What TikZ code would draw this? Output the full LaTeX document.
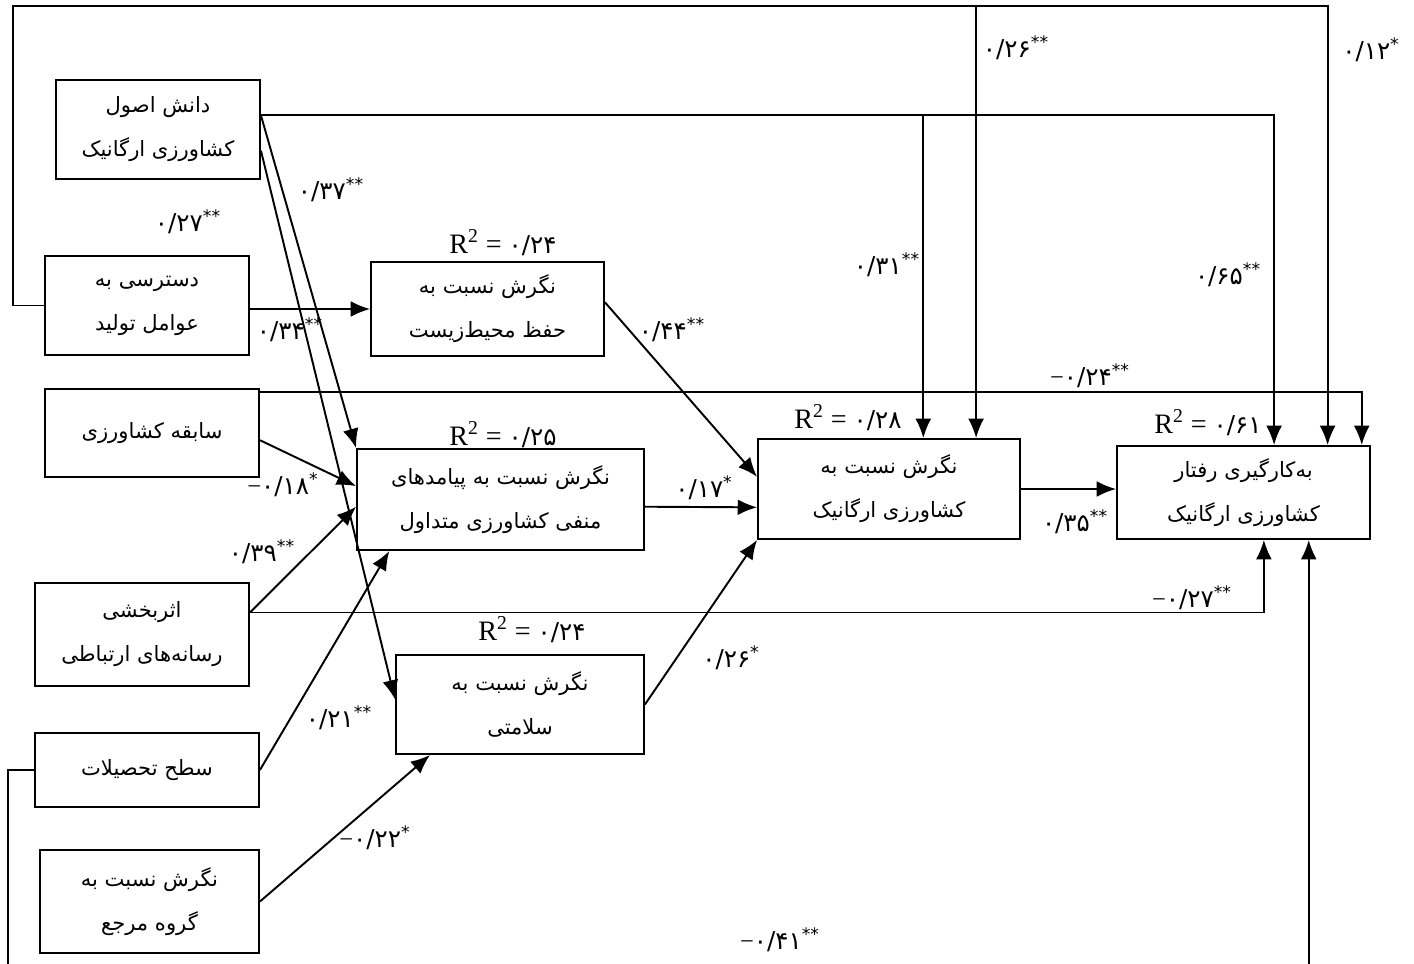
\documentclass[tikz,border=0pt]{standalone}
\usepackage{fontspec}
\setmainfont{Liberation Serif}
\newfontfamily\arabicfont[Script=Arabic]{DejaVu Sans}
\TeXXeTstate=1
\usetikzlibrary{calc,arrows.meta}
\begin{document}
        \begin{tikzpicture}[x=0.02cm, y=-0.02cm,
            box/.style={draw, line width=1.1pt, inner sep=0pt, align=center, font=\arabicfont\fontsize{12}{25}\selectfont},
            arr/.style={line width=1.1pt, -{Latex[length=11pt,width=9pt]}},
            coef/.style={inner sep=0pt, font=\arabicfont\fontsize{14}{16}\selectfont},
            rsq/.style={inner sep=0pt, font=\fontsize{16}{18}\selectfont}]
            \useasboundingbox (0,0) rectangle (1414,964);

            \node (know) [box, minimum width=4.08cm, minimum height=1.98cm] at (158,129.5) {\beginR دانش اصول\endR\\\beginR کشاورزی ارگانیک\endR};
            \node (acc) [box, minimum width=4.08cm, minimum height=1.98cm] at (147,305.5) {\beginR دسترسی به\endR\\\beginR عوامل تولید\endR};
            \node (exp) [box, minimum width=4.28cm, minimum height=1.76cm] at (152,433) {\beginR سابقه کشاورزی\endR};
            \node (media) [box, minimum width=4.28cm, minimum height=2.06cm] at (142,634.5) {\beginR اثربخشی\endR\\\beginR رسانه‌های ارتباطی\endR};
            \node (edu) [box, minimum width=4.48cm, minimum height=1.48cm] at (147,770) {\beginR سطح تحصیلات\endR};
            \node (refgrp) [box, minimum width=4.38cm, minimum height=2.06cm] at (149.5,901.5) {\beginR نگرش نسبت به\endR\\\beginR گروه مرجع\endR};
            \node (env) [box, minimum width=4.66cm, minimum height=1.88cm] at (487.5,309) {\beginR نگرش نسبت به\endR\\\beginR حفظ محیط‌زیست\endR};
            \node (conseq) [box, minimum width=5.74cm, minimum height=2.02cm] at (500.5,499.5) {\beginR نگرش نسبت به پیامدهای\endR\\\beginR منفی کشاورزی متداول\endR};
            \node (health) [box, minimum width=4.96cm, minimum height=1.98cm] at (520,704.5) {\beginR نگرش نسبت به\endR\\\beginR سلامتی\endR};
            \node (att) [box, minimum width=5.24cm, minimum height=2.0cm] at (889,489) {\beginR نگرش نسبت به\endR\\\beginR کشاورزی ارگانیک\endR};
            \node (behav) [box, minimum width=5.06cm, minimum height=1.86cm] at (1243.5,492.5) {\beginR به‌کارگیری رفتار\endR\\\beginR کشاورزی ارگانیک\endR};

            \node (r1) [rsq] at (503,243) {R\textsuperscript{2} = {\arabicfont\fontsize{14}{16}\selectfont ۰/۲۴}};
            \node (r2) [rsq] at (503,435) {R\textsuperscript{2} = {\arabicfont\fontsize{14}{16}\selectfont ۰/۲۵}};
            \node (r3) [rsq] at (532,630) {R\textsuperscript{2} = {\arabicfont\fontsize{14}{16}\selectfont ۰/۲۴}};
            \node (r4) [rsq] at (848,418) {R\textsuperscript{2} = {\arabicfont\fontsize{14}{16}\selectfont ۰/۲۸}};
            \node (r5) [rsq] at (1208,423) {R\textsuperscript{2} = {\arabicfont\fontsize{14}{16}\selectfont ۰/۶۱}};

            \coordinate (kstart) at ($(know.north east)!.36!(know.south east)$);
            \coordinate (kmid) at ($(know.north east)!.71!(know.south east)$);
            \coordinate (estart) at ($(exp.north east)!.04!(exp.south east)$);
            \coordinate (mstart) at ($(media.north east)!.29!(media.south east)$);
            \coordinate (topleft) at (13,6);
            \coordinate (botleft) at (8,990);
            \coordinate (attin1) at ($(att.north west)!.63!(att.north east)$);
            \coordinate (attin2) at ($(att.north west)!.83!(att.north east)$);
            \coordinate (behin1) at ($(behav.north west)!.62!(behav.north east)$);
            \coordinate (behin2) at ($(behav.north west)!.83!(behav.north east)$);
            \coordinate (behin3) at ($(behav.north west)!.964!(behav.north east)$);
            \coordinate (behout1) at ($(behav.south west)!.58!(behav.south east)$);
            \coordinate (behout2) at ($(behav.south west)!.756!(behav.south east)$);

            \draw [arr] (acc.west) -| (topleft) -| (behin2);
            \draw [arr] (attin2 |- topleft) -- (attin2);
            \draw [arr] (kstart) -| (behin1);
            \draw [arr] (attin1 |- kstart) -- (attin1);
            \draw [arr] (estart) -| (behin3);
            \draw [arr] (mstart) -| (behout1);
            \draw [arr] (edu.west) -| (botleft) -| (behout2);

            \draw [arr] (kstart) -- (conseq.north west);
            \draw [arr] (kmid) -- ($(health.north west)!.45!(health.south west)$);
            \draw [arr] (env.west -| acc.east) -- (env.west);
            \draw [arr] ($(env.north east)!.43!(env.south east)$) -- ($(att.north west)!.38!(att.south west)$);
            \draw [arr] ($(exp.north east)!.58!(exp.south east)$) -- ($(conseq.north west)!.37!(conseq.south west)$);
            \draw [arr] (mstart) -- ($(conseq.north west)!.57!(conseq.south west)$);
            \draw [arr] (edu.east) -- ($(conseq.south west)!.115!(conseq.south east)$);
            \draw [arr] (refgrp.east) -- ($(health.south west)!.14!(health.south east)$);
            \draw [arr] ($(conseq.north east)!.57!(conseq.south east)$) -- ($(att.north west)!.68!(att.south west)$);
            \draw [arr] (health.east) -- (att.south west);
            \draw [arr] (att.east) -- (att.east -| behav.west);

            \node (c1) [coef] at (1016,48) {۰/۲۶\textsuperscript{**}};
            \node (c2) [coef] at (1371,50) {۰/۱۲\textsuperscript{*}};
            \node (c3) [coef] at (331,190) {۰/۳۷\textsuperscript{**}};
            \node (c4) [coef] at (188,222) {۰/۲۷\textsuperscript{**}};
            \node (c5) [coef] at (887,265) {۰/۳۱\textsuperscript{**}};
            \node (c6) [coef] at (1228,275) {۰/۶۵\textsuperscript{**}};
            \node (c7) [coef] at (290,330) {۰/۳۴\textsuperscript{**}};
            \node (c8) [coef] at (672,330) {۰/۴۴\textsuperscript{**}};
            \node (c9) [coef] at (1090,376) {{\rmfamily −}۰/۲۴\textsuperscript{**}};
            \node (c10) [coef] at (283,485) {{\rmfamily −}۰/۱۸\textsuperscript{*}};
            \node (c11) [coef] at (704,488) {۰/۱۷\textsuperscript{*}};
            \node (c12) [coef] at (1075,522) {۰/۳۵\textsuperscript{**}};
            \node (c13) [coef] at (262,552) {۰/۳۹\textsuperscript{**}};
            \node (c14) [coef] at (1192,598) {{\rmfamily −}۰/۲۷\textsuperscript{**}};
            \node (c15) [coef] at (731,658) {۰/۲۶\textsuperscript{*}};
            \node (c16) [coef] at (339,718) {۰/۲۱\textsuperscript{**}};
            \node (c17) [coef] at (375,838) {{\rmfamily −}۰/۲۲\textsuperscript{*}};
            \node (c18) [coef] at (780,940) {{\rmfamily −}۰/۴۱\textsuperscript{**}};
        \end{tikzpicture}
\end{document}
